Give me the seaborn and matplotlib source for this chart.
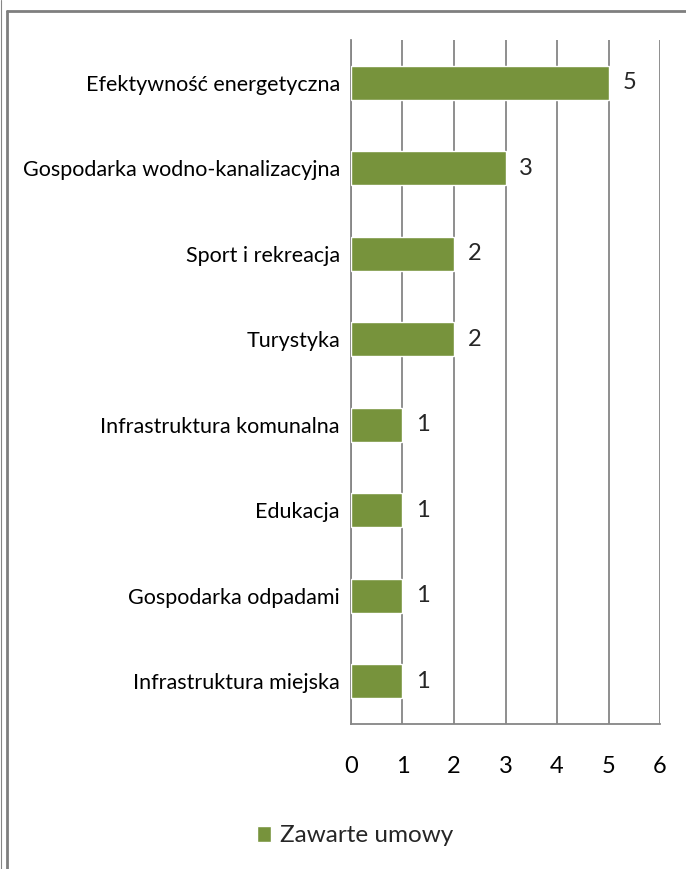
import pandas as pd
import seaborn as sns
import matplotlib.pyplot as plt
from matplotlib.patches import Patch

categories = ["Efektywność energetyczna", "Gospodarka wodno-kanalizacyjna", "Sport i rekreacja",
              "Turystyka", "Infrastruktura komunalna", "Edukacja", "Gospodarka odpadami",
              "Infrastruktura miejska"]
values = [5, 3, 2, 2, 1, 1, 1, 1]
series_name = "Zawarte umowy"

df = pd.DataFrame({"kategoria": categories, "liczba": values})

sns.set_style("white")
plt.rcParams['font.family'] = ['Lato', 'DejaVu Sans']

green = "#77933C"
gray = "#868686"

fig = plt.figure(figsize=(6.86, 8.69), dpi=100)
ax = fig.add_axes([351/686, 1 - 724/869, 309/686, 684/869])

sns.barplot(x="liczba", y="kategoria", data=df, color=green, width=0.4,
            saturation=1, ax=ax, zorder=3)

ax.set_xlim(0, 6)
ax.set_ylim(len(categories) - 0.5, -0.5)
ax.set_xlabel("")
ax.set_ylabel("")

# gridlines
ax.set_xticks(range(0, 7))
ax.grid(axis="x", color=gray, linewidth=1.3, zorder=0)
ax.grid(axis="y", visible=False)

for s in ["top", "right"]:
    ax.spines[s].set_visible(False)
for s in ["left", "bottom"]:
    ax.spines[s].set_color(gray)
    ax.spines[s].set_linewidth(1.3)

# y ticks at category boundaries
ax.set_yticks([i - 0.5 for i in range(len(categories) + 1)], minor=True)
ax.tick_params(axis="y", which="minor", length=6, width=1.3, color=gray, direction="out")
ax.tick_params(axis="y", which="major", length=0, pad=8, labelsize=15.5, labelcolor="black")
ax.tick_params(axis="x", which="major", length=7, width=1.3, color=gray, direction="out",
               pad=16, labelsize=17, labelcolor="black")

# value labels
for c in ax.containers:
    ax.bar_label(c, labels=[str(v) for v in values], padding=10, fontsize=17)

# legend
handle = Patch(facecolor=green, label=series_name)
fig.legend(handles=[handle], loc="center", bbox_to_anchor=(0.5 + 12/686, 1 - 836/869),
           frameon=False, fontsize=17.5, handlelength=0.6, handleheight=0.6,
           handletextpad=0.35)

# outer frame: top and left edges, plus thin line at the far left
top = 1 - 11/869
left = 6.5/686
fig.add_artist(plt.Line2D([left, 1.0], [top, top], transform=fig.transFigure,
                          color="#7f7f7f", linewidth=2, zorder=10))
fig.add_artist(plt.Line2D([left, left], [0, top], transform=fig.transFigure,
                          color="#7f7f7f", linewidth=2, zorder=10))
fig.add_artist(plt.Line2D([1/686, 1/686], [0, 1], transform=fig.transFigure,
                          color=gray, linewidth=0.8))

plt.savefig("out.png", dpi=100)
